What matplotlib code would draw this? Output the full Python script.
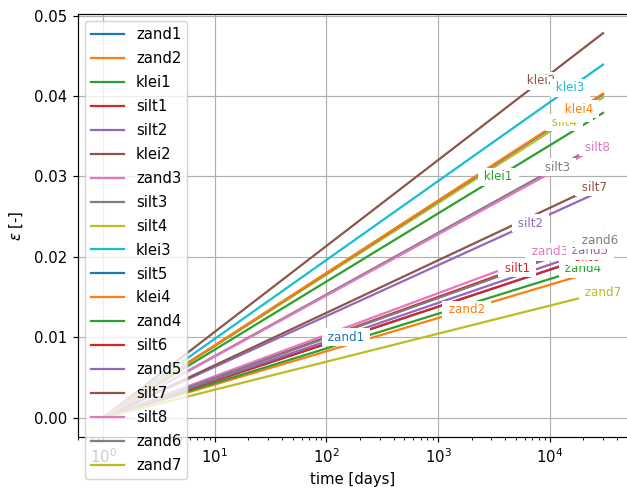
import numpy as np
import matplotlib
matplotlib.use('Agg')
import matplotlib.pyplot as plt

# soil layers, in plotting order
names = ['zand1', 'zand2', 'klei1', 'silt1', 'silt2', 'klei2', 'zand3', 'silt3',
         'silt4', 'klei3', 'silt5', 'klei4', 'zand4', 'silt6', 'zand5', 'silt7',
         'silt8', 'zand6', 'zand7']

# time range [days] and strain at the end of it
t_days = [1, 30000]
eps_end = [0.0206, 0.0185, 0.0379, 0.0224, 0.0283, 0.0478, 0.0231, 0.0343,
           0.0398, 0.0439, 0.0402, 0.0403, 0.0193, 0.0206, 0.0213, 0.0292,
           0.0340, 0.0222, 0.0156]

# where the inline labels sit along the time axis
label_t = [150, 1800, 3450, 5100, 6750, 8400, 10000, 11700, 13400, 15200,
           16650, 18300, 19950, 21600, 23000, 24950, 26700, 28100, 30300]

my_dpi = 107
fig = plt.figure(figsize=(627 / my_dpi, 495 / my_dpi), dpi=my_dpi)
ax = fig.add_axes([78 / 627, 58 / 495, 550 / 627, 423 / 495])

lines = []
for name, e in zip(names, eps_end):
    line, = ax.plot(t_days, [0, e], label=name)
    lines.append(line)

ax.set_xscale('log')
ax.grid(True)
ax.set_xlabel('time [days]')
ax.set_ylabel(r'$\varepsilon$ [-]', labelpad=6)
ax.legend(loc='upper left', labelspacing=0.6, handlelength=2.2)

# inline labels on the lines (white box hides the line underneath)
for line, xl in zip(lines, label_t):
    x, y = line.get_data()
    yl = np.interp(np.log10(xl), np.log10(x), y)
    ax.text(xl, yl, ' ' + line.get_label() + ' ', color=line.get_color(),
            ha='center', va='center', fontsize=8,
            bbox=dict(boxstyle='square,pad=0.2', fc='white', ec='none'))

fig.savefig('out.png', dpi=my_dpi)
